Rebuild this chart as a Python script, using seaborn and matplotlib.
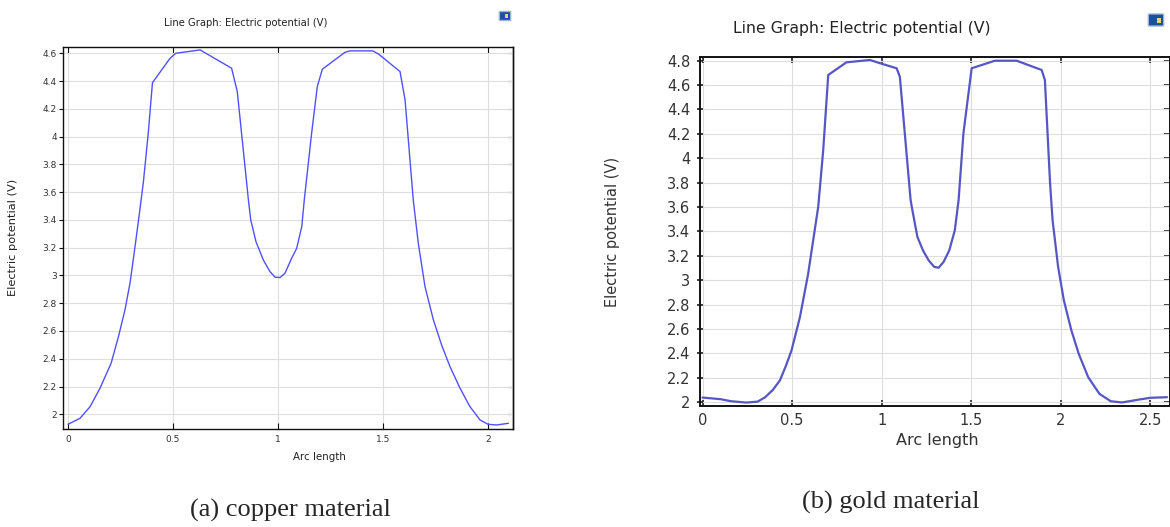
import matplotlib.pyplot as plt
import matplotlib.patches as mpatches
import pandas as pd
import seaborn as sns

# (a) copper material
copper_x = [0.0, 0.057, 0.105, 0.152, 0.205, 0.24, 0.271, 0.295, 0.319, 0.34,
            0.359, 0.382, 0.402, 0.486, 0.513, 0.629, 0.779, 0.806, 0.859, 0.870,
            0.895, 0.930, 0.962, 0.986, 1.010, 1.033, 1.065, 1.089, 1.113, 1.125,
            1.160, 1.187, 1.211, 1.319, 1.343, 1.451, 1.478, 1.581, 1.605, 1.644,
            1.668, 1.700, 1.740, 1.779, 1.819, 1.867, 1.914, 1.962, 2.000, 2.041,
            2.097]
copper_v = [1.928, 1.971, 2.055, 2.187, 2.367, 2.559, 2.751, 2.943, 3.207, 3.448,
            3.675, 4.024, 4.388, 4.564, 4.600, 4.624, 4.492, 4.323, 3.543, 3.400,
            3.243, 3.111, 3.027, 2.987, 2.985, 3.016, 3.124, 3.196, 3.351, 3.543,
            4.024, 4.360, 4.485, 4.607, 4.617, 4.617, 4.595, 4.468, 4.264, 3.543,
            3.232, 2.919, 2.679, 2.499, 2.343, 2.187, 2.055, 1.959, 1.928, 1.923,
            1.935]

# (b) gold material
gold_x = [0.0, 0.10, 0.16, 0.245, 0.308, 0.35, 0.392, 0.432, 0.466, 0.497,
          0.544, 0.59, 0.618, 0.646, 0.674, 0.702, 0.804, 0.935, 0.994, 1.084,
          1.102, 1.162, 1.172, 1.20, 1.231, 1.263, 1.294, 1.319, 1.346, 1.378,
          1.409, 1.43, 1.457, 1.503, 1.633, 1.754, 1.894, 1.912, 1.941, 1.955,
          1.986, 2.018, 2.06, 2.101, 2.154, 2.217, 2.28, 2.343, 2.427, 2.50,
          2.594]
gold_v = [2.038, 2.025, 2.008, 1.997, 2.005, 2.041, 2.100, 2.178, 2.300, 2.425,
          2.698, 3.054, 3.328, 3.601, 4.067, 4.683, 4.787, 4.806, 4.778, 4.738,
          4.669, 3.658, 3.574, 3.355, 3.245, 3.163, 3.109, 3.103, 3.150, 3.245,
          3.410, 3.656, 4.204, 4.738, 4.800, 4.800, 4.724, 4.642, 3.795, 3.492,
          3.109, 2.835, 2.589, 2.397, 2.205, 2.068, 2.008, 1.998, 2.019, 2.036,
          2.041]

copper_xticks = [0, 0.5, 1, 1.5, 2]
copper_yticks = [2, 2.2, 2.4, 2.6, 2.8, 3, 3.2, 3.4, 3.6, 3.8, 4, 4.2, 4.4, 4.6]
gold_xticks = [0, 0.5, 1, 1.5, 2, 2.5]
gold_yticks = [2, 2.2, 2.4, 2.6, 2.8, 3, 3.2, 3.4, 3.6, 3.8, 4, 4.2, 4.4, 4.6, 4.8]

plot_title = "Line Graph: Electric potential (V)"
x_label = "Arc length"
y_label = "Electric potential (V)"
captions = ["(a) copper material", "(b) gold material"]

sns.set_style("white")
plt.rcParams["font.family"] = ["DejaVu Sans"]

W, H = 1170, 527
fig = plt.figure(figsize=(W / 100, H / 100), dpi=100)


def px_rect(l, t, r, b):
    return [l / W, 1 - b / H, (r - l) / W, (b - t) / H]


def fmt(v):
    return f"{v:g}"


def draw_panel(rect, xs, vs, xticks, yticks, xlim, ylim, color, lw, fs,
               spine_lw, ytick_dir, ytick_len, ytick_pad, xpad):
    ax = fig.add_axes(rect)
    df = pd.DataFrame({"x": xs, "v": vs})
    sns.lineplot(data=df, x="x", y="v", ax=ax, color=color, lw=lw)
    ax.set_xlim(*xlim)
    ax.set_ylim(*ylim)
    ax.set_xticks(xticks)
    ax.set_xticklabels([fmt(t) for t in xticks])
    ax.set_yticks(yticks)
    ax.set_yticklabels([fmt(t) for t in yticks])
    ax.set_xlabel("")
    ax.set_ylabel("")
    ax.grid(True, color="#dedede", lw=0.8)
    ax.set_axisbelow(True)
    for s in ax.spines.values():
        s.set_color("#111111")
        s.set_linewidth(spine_lw)
    ax.tick_params(axis="x", direction="in", top=True, bottom=True,
                   length=4, width=spine_lw * 0.8, labelsize=fs, pad=xpad,
                   colors="#111111", labelcolor="#333333")
    ax.tick_params(axis="y", direction=ytick_dir, left=True, right=False,
                   length=ytick_len, width=spine_lw * 0.8, labelsize=fs,
                   pad=ytick_pad, colors="#111111", labelcolor="#333333")
    sec = ax.secondary_yaxis("right")
    sec.set_yticks(yticks)
    sec.tick_params(direction="in", length=4, width=spine_lw * 0.8,
                    labelright=False, colors="#111111")
    sec.spines["right"].set_linewidth(spine_lw)
    return ax


def add_icon(cx, cy, w, h):
    box = mpatches.FancyBboxPatch(((cx - w / 2) / W, 1 - (cy + h / 2) / H),
                                  w / W, h / H, boxstyle="round,pad=0.001",
                                  transform=fig.transFigure, facecolor="#1d4f9c",
                                  edgecolor="#9fb6d8", lw=1.0)
    fig.add_artist(box)
    hi = mpatches.Rectangle(((cx + w * 0.05) / W, 1 - (cy + h * 0.3) / H),
                            w * 0.3 / W, h * 0.5 / H, transform=fig.transFigure,
                            facecolor="#e8d46a", edgecolor="none")
    fig.add_artist(hi)


# left panel: copper
draw_panel(px_rect(63, 47, 513, 429), copper_x, copper_v,
           copper_xticks, copper_yticks, (-0.024, 2.119), (1.894, 4.645),
           "#5050ff", 1.0, 6.5, 1.0, "out", 3, 1.5, 4.5)
fig.text(246 / W, 1 - 23 / H, plot_title, fontsize=7.2, color="#222222",
         ha="center", va="center")
fig.text(13 / W, 1 - 237 / H, y_label, fontsize=8.2, color="#222222",
         rotation=90, ha="center", va="center")
fig.text(319 / W, 1 - 457 / H, x_label, fontsize=7.4, color="#222222",
         ha="center", va="center")
add_icon(505, 16, 9, 8)

# right panel: gold
draw_panel(px_rect(699.5, 57.3, 1169.5, 405.5), gold_x, gold_v,
           gold_xticks, gold_yticks, (-0.017, 2.608), (1.973, 4.828),
           "#5656c4", 1.6, 10.5, 1.4, "inout", 4, 4.5, 5.5)
fig.text(862 / W, 1 - 28 / H, plot_title, fontsize=11.3, color="#222222",
         ha="center", va="center")
fig.text(613 / W, 1 - 232 / H, y_label, fontsize=10.5, color="#333333",
         rotation=90, ha="center", va="center")
fig.text(937 / W, 1 - 440 / H, x_label, fontsize=11.5, color="#333333",
         ha="center", va="center")
add_icon(1156, 20, 13, 11)

# captions
fig.text(290 / W, 1 - 510 / H, captions[0], fontsize=19,
         family="Liberation Serif", ha="center", va="center")
fig.text(891 / W, 1 - 502 / H, captions[1], fontsize=19,
         family="Liberation Serif", ha="center", va="center")

fig.savefig("out.png", dpi=100)
